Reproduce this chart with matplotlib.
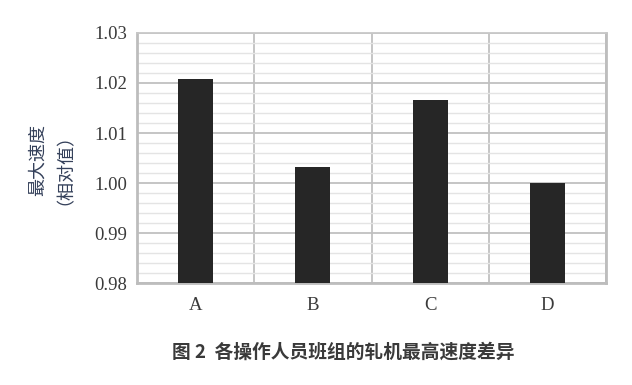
import numpy as np
import matplotlib
matplotlib.use("Agg")
import matplotlib.pyplot as plt
from matplotlib.ticker import MultipleLocator, FixedLocator

# data
groups = ["A", "B", "C", "D"]
max_speed = [1.0208, 1.0033, 1.0165, 1.0000]
y_ticks = [0.98, 0.99, 1.00, 1.01, 1.02, 1.03]

plt.rcParams['font.family'] = ['Noto Sans CJK SC', 'DejaVu Sans']

fig = plt.figure(figsize=(6.32, 3.85), dpi=100)
ax = fig.add_axes([0.2168, 0.2649, 0.7421, 0.6494])

x = np.arange(len(groups))
ax.bar(x, max_speed, width=0.3, color="#262626", zorder=3)

ax.set_xlim(-0.5, len(groups) - 0.5)
ax.set_ylim(y_ticks[0], y_ticks[-1])
ax.set_yticks(y_ticks)
ax.set_yticklabels(["%.2f" % v for v in y_ticks], family="Liberation Serif",
                   fontsize=13.5, color="#3a3a3a")
ax.yaxis.set_minor_locator(MultipleLocator(0.002))
ax.set_xticks(x)
ax.set_xticklabels(groups, family="Liberation Serif", fontsize=13.5, color="#3a3a3a")
ax.xaxis.set_minor_locator(FixedLocator(np.arange(-0.5, len(groups), 1.0)))

# grid: darker major rows, pale minor rows, column separators
ax.grid(axis="y", which="major", color="#c0c0c0", linewidth=1.3, zorder=0)
ax.grid(axis="y", which="minor", color="#e4e4e4", linewidth=1.0, zorder=0)
ax.grid(axis="x", which="minor", color="#c0c0c0", linewidth=1.3, zorder=0)
ax.grid(axis="x", which="major", visible=False)

ax.tick_params(which="both", length=0)
ax.tick_params(axis="y", pad=7)
ax.tick_params(axis="x", pad=10)
for side in ["left", "bottom", "right"]:
    ax.spines[side].set_color("#bdbdbd")
    ax.spines[side].set_linewidth(2)
ax.spines["top"].set_color("#c8c8c8")
ax.spines["top"].set_linewidth(1.3)

fig.text(0.074, 0.584, "最大速度\n（相对值）", rotation=90, ha="center", va="center",
         fontsize=13, color="#34405a", linespacing=1.05)

fig.text(0.543, 0.086, "图 2  各操作人员班组的轧机最高速度差异", ha="center", va="center",
         fontsize=13.5, fontweight="bold", color="#3a3a3a")

fig.savefig("out.png", dpi=100)
